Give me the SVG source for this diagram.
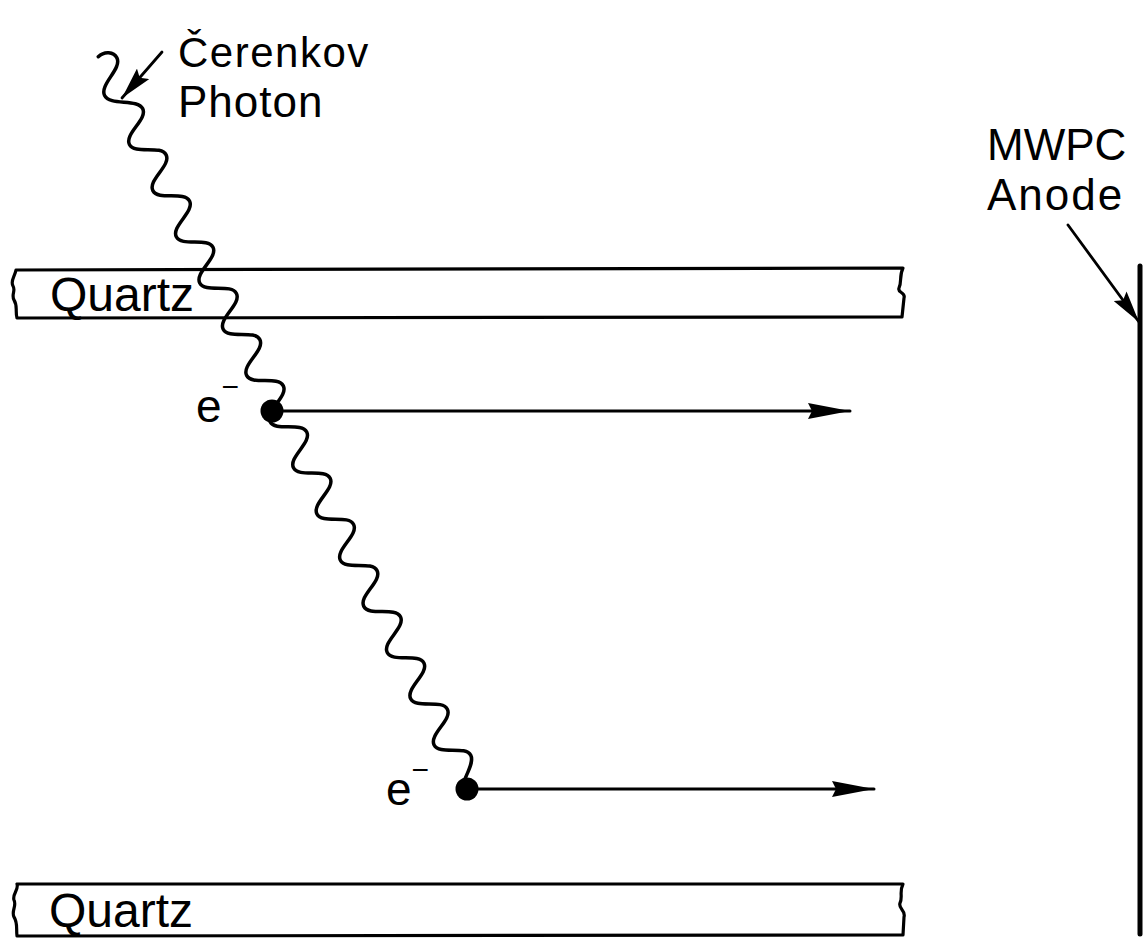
<svg xmlns="http://www.w3.org/2000/svg" width="1146" height="946" viewBox="0 0 1146 946">
  <style>
    .ink { fill: none; stroke: #000; stroke-linecap: round; stroke-linejoin: round; }
    .slab { stroke-width: 3.2; }
    .lbl { font-family: "Liberation Sans", Arial, sans-serif; fill: #000; }
    .track { stroke-width: 3; }
    .pointer { stroke-width: 2.8; }
  </style>
  <defs>
    <marker id="head-track" viewBox="0 0 42 18" refX="42" refY="9" markerWidth="42" markerHeight="18" markerUnits="userSpaceOnUse" orient="auto">
      <path d="M0 1 L42 9 L0 17 L4 9 Z" fill="#000"/>
    </marker>
    <marker id="head-pointer" viewBox="0 0 32 16" refX="32" refY="8" markerWidth="32" markerHeight="16" markerUnits="userSpaceOnUse" orient="auto">
      <path d="M0 0 L32 8 L0 16 L5 8 Z" fill="#000"/>
    </marker>
  </defs>

  <rect width="1146" height="946" fill="#fff"/>

  <!-- upper quartz window with broken ends -->
  <g id="quartz-top">
    <path class="ink slab" d="M16 270 L903 268 C899 276 902 282 899 288 C897 293 906 292 904 298 L902 317 L17 318 C15 311 18 306 14 300 C11 294 16 291 13 286 C10 281 15 276 16 270 Z"/>
    <text class="lbl" x="50" y="311" font-size="48">Quartz</text>
  </g>

  <!-- lower quartz window with broken ends -->
  <g id="quartz-bottom">
    <path class="ink slab" d="M17 884 L903 884 C899 892 903 897 900 903 C898 909 906 910 904 917 L903 935 L17 936 C16 929 18 923 14 917 C11 911 17 906 14 900 C12 894 19 890 17 884 Z"/>
    <text class="lbl" x="49" y="927" font-size="48">Quartz</text>
  </g>

  <!-- incoming photon, drawn along its own axis -->
  <g id="photon">
    <path class="ink" stroke-width="3.5" transform="translate(130.2 115) rotate(63.1)"
      d="M-66.4 2.1 C-69 -6 -64 -14 -57 -14 C-45 -14 -41 14 -29 14 C-17 14 -11.7 -14 0 -14
         S14.2 14 25.9 14 S40.1 -14 51.8 -14 S66 14 77.7 14 S91.9 -14 103.6 -14
         S117.8 14 129.5 14 S143.7 -14 155.4 -14 S169.6 14 181.3 14 S195.5 -14 207.2 -14
         S221.4 14 233.1 14 S247.3 -14 259 -14 S273.2 14 284.9 14 S299.1 -14 310.8 -14
         S325 14 336.7 14 S350.9 -14 362.6 -14 S376.8 14 388.5 14 S402.7 -14 414.4 -14
         S428.6 14 440.3 14 S454.5 -14 466.2 -14 S480.4 14 492.1 14 S506.3 -14 518 -14
         S532.2 14 543.9 14 S558.1 -14 569.8 -14 S584 14 595.7 14 S610 -14 621.6 -14
         S635.8 14 647.5 14 S661.7 -14 673.4 -14 S687.6 14 699.3 14 S713.5 -14 725.2 -14
         C736.9 -14 748 16 752.5 4"/>
    <text class="lbl" x="178" y="67" font-size="42" letter-spacing="1.5">Čerenkov</text>
    <text class="lbl" x="178" y="117" font-size="44" letter-spacing="1">Photon</text>
  </g>

  <!-- photoelectrons -->
  <g id="electron-1">
    <circle cx="272" cy="411" r="11.5" fill="#000"/>
    <text class="lbl" x="196" y="422" font-size="46">e<tspan font-size="30" dy="-25">−</tspan></text>
  </g>
  <g id="electron-2">
    <circle cx="467" cy="789" r="11.5" fill="#000"/>
    <text class="lbl" x="386" y="805" font-size="46">e<tspan font-size="30" dy="-25">−</tspan></text>
  </g>

  <!-- anode plane -->
  <g id="anode">
    <line class="ink" stroke-width="5" stroke-linecap="butt" x1="1140" y1="266" x2="1140" y2="934"/>
    <text class="lbl" x="987" y="160" font-size="44">MWPC</text>
    <text class="lbl" x="987" y="210" font-size="44" letter-spacing="2">Anode</text>
  </g>

  <!-- drift tracks and label pointers -->
  <g id="connectors">
    <line class="ink track" x1="280" y1="411" x2="850" y2="411" marker-end="url(#head-track)"/>
    <line class="ink track" x1="475" y1="789" x2="874" y2="789" marker-end="url(#head-track)"/>
    <line class="ink pointer" x1="162" y1="52" x2="122" y2="98" marker-end="url(#head-pointer)"/>
    <line class="ink pointer" x1="1068" y1="225" x2="1139" y2="322" marker-end="url(#head-pointer)"/>
  </g>
</svg>
